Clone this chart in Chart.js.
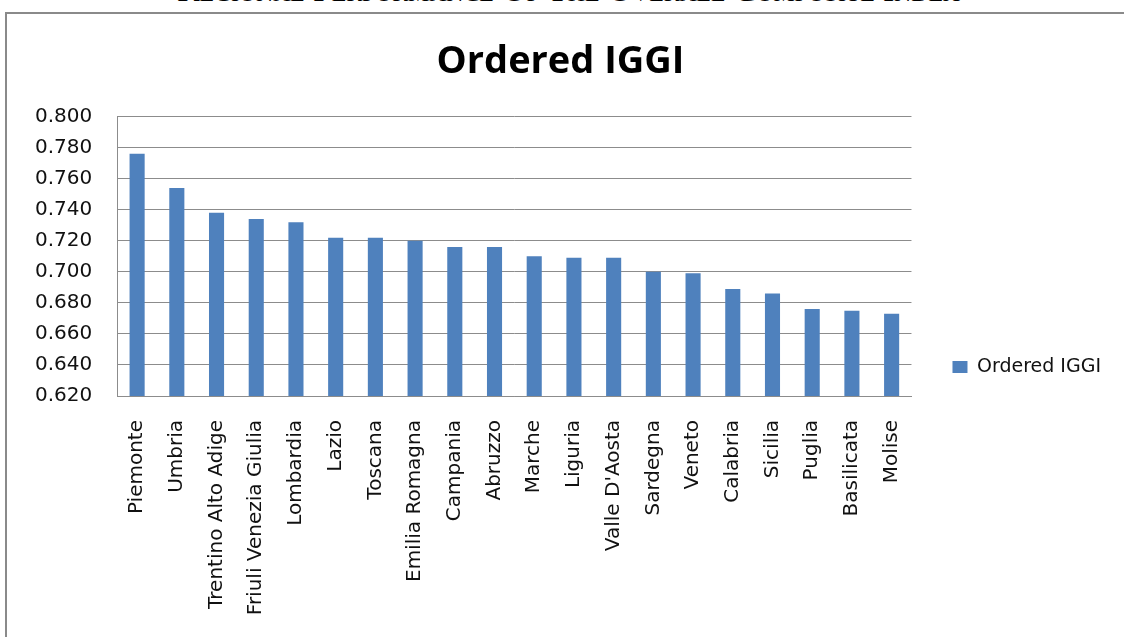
<!DOCTYPE html>
<html>
<head>
<meta charset="utf-8">
<title>Ordered IGGI</title>
<script src="https://cdn.jsdelivr.net/npm/chart.js@4.4.1/dist/chart.umd.min.js"></script>
<style>
  html, body {
    margin: 0;
    padding: 0;
    background: #fff;
    width: 1124px;
    height: 637px;
    overflow: hidden;
  }
  #header {
    position: absolute;
    top: -29px;
    left: 177px;
    white-space: nowrap;
    font-family: "Liberation Serif", "DejaVu Serif", serif;
    font-variant: small-caps;
    font-size: 34px;
    letter-spacing: -0.2px;
    color: #000;
  }
  #frame {
    position: absolute;
    left: 5px;
    top: 12px;
    width: 1200px;
    height: 700px;
    border-left: 2px solid #8a8a8a;
    border-top: 2px solid #8a8a8a;
  }
  #myChart {
    position: absolute;
    left: 0;
    top: 0;
  }
</style>
</head>
<body>
<div id="header">Regional Performance Of The Overall Composite Index</div>
<div id="frame"></div>
<canvas id="myChart" width="1124" height="734"></canvas>

<script>
// regions, already sorted by score
const regions = [
  'Piemonte', 'Umbria', 'Trentino Alto Adige', 'Friuli Venezia Giulia', 'Lombardia',
  'Lazio', 'Toscana', 'Emilia Romagna', 'Campania', 'Abruzzo',
  'Marche', 'Liguria', "Valle D'Aosta", 'Sardegna', 'Veneto',
  'Calabria', 'Sicilia', 'Puglia', 'Basilicata', 'Molise'
];

const iggiValues = [
  0.776, 0.754, 0.738, 0.734, 0.732,
  0.722, 0.722, 0.720, 0.716, 0.716,
  0.710, 0.709, 0.709, 0.700, 0.699,
  0.689, 0.686, 0.676, 0.675, 0.673
];

const yMin = 0.62;
const yMax = 0.80;
const yStep = 0.02;

const barColor = '#4F81BD';
const gridColor = '#8c8c8c';

const ctx = document.getElementById('myChart').getContext('2d');
new Chart(ctx, {
  type: 'bar',
  data: {
    labels: regions,
    datasets: [{
      label: 'Ordered IGGI',
      data: iggiValues,
      backgroundColor: barColor,
      borderWidth: 0,
      categoryPercentage: 1.0,
      barPercentage: 0.38
    }]
  },
  options: {
    responsive: false,
    animation: false,
    layout: {
      padding: { top: 18, left: 10, right: 13, bottom: 18 }
    },
    plugins: {
      title: {
        display: true,
        text: 'Ordered IGGI',
        color: '#000',
        font: { family: 'Open Sans', size: 38, weight: 'bold' },
        padding: { top: 21, bottom: 32 }
      },
      legend: {
        position: 'right',
        labels: {
          color: '#111',
          font: { family: 'DejaVu Sans', size: 19 },
          boxWidth: 15,
          boxHeight: 12,
          padding: 41
        }
      },
      tooltip: { enabled: false }
    },
    scales: {
      x: {
        grid: { display: false, drawTicks: false },
        border: { color: gridColor },
        ticks: {
          autoSkip: false,
          maxRotation: 90,
          minRotation: 90,
          padding: 24,
          color: '#111',
          font: { family: 'DejaVu Sans', size: 20 }
        },
        // leave room under the labels so the legend sits where the original has it
        afterFit: (scale) => { scale.height = 320; }
      },
      y: {
        min: yMin,
        max: yMax,
        grid: { color: gridColor, drawTicks: false },
        border: { color: gridColor },
        ticks: {
          stepSize: yStep,
          padding: 25,
          color: '#111',
          font: { family: 'DejaVu Sans', size: 20 },
          callback: (value) => Number(value).toFixed(3)
        }
      }
    }
  }
});
</script>
</body>
</html>
